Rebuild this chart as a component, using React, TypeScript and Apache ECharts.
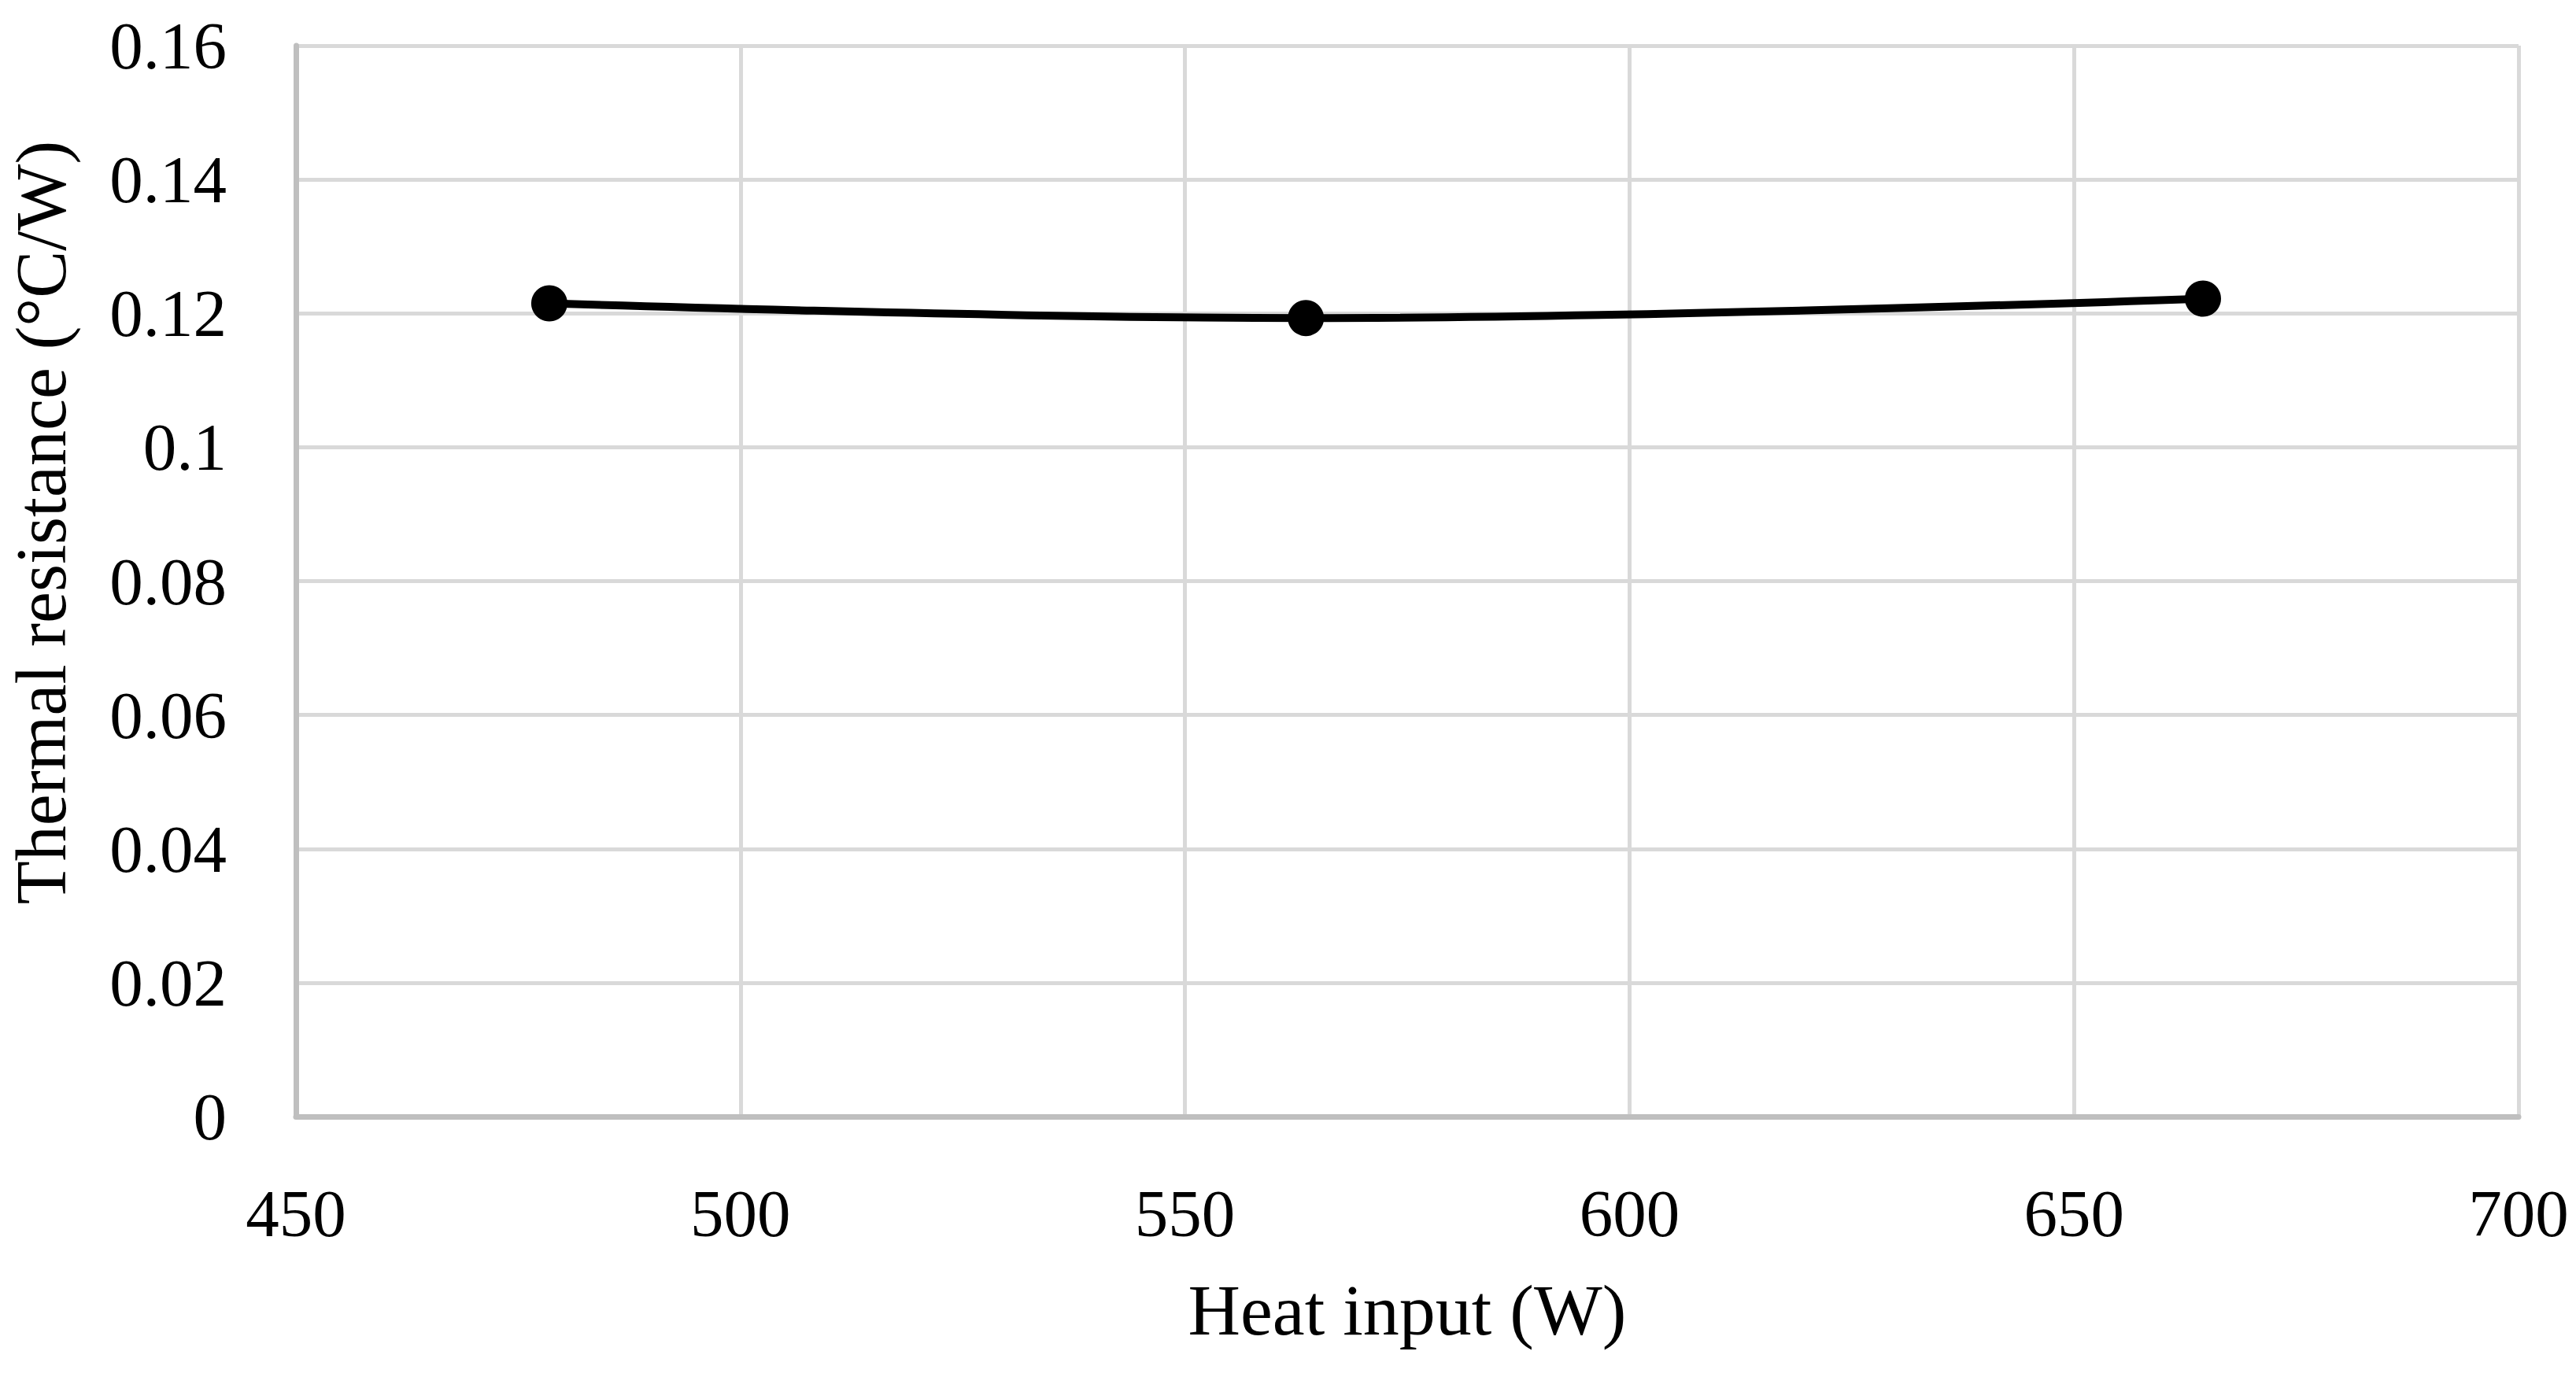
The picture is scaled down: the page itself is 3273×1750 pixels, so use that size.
import React, { useEffect, useRef } from "react";
import * as echarts from "echarts";

const heatInput = [478.5, 563.6, 664.5];
const thermalResistance = [0.1215, 0.1193, 0.1222];
const xTitle = "Heat input (W)";
const yTitle = "Thermal resistance (°C/W)";

const FONT = "'Liberation Serif', 'DejaVu Serif', serif";

export default function App() {
  const ref = useRef<HTMLDivElement>(null);
  useEffect(() => {
    if (!ref.current) return;
    const chart = echarts.init(ref.current, null, { renderer: "svg" });
    const points = heatInput.map((x, i) => [x, thermalResistance[i]]);
    chart.setOption({
      animation: false,
      backgroundColor: "#ffffff",
      textStyle: { fontFamily: FONT },
      grid: { left: 376, right: 73, top: 58, bottom: 331, containLabel: false },
      xAxis: {
        type: "value",
        min: 450,
        max: 700,
        interval: 50,
        name: xTitle,
        nameLocation: "middle",
        nameGap: 200,
        nameTextStyle: { fontFamily: FONT, fontSize: 92, color: "#000" },
        axisLine: { show: true, lineStyle: { color: "#bfbfbf", width: 7 } },
        axisTick: { show: false },
        axisLabel: { fontFamily: FONT, fontSize: 85, color: "#000", margin: 80 },
        splitLine: { show: true, lineStyle: { color: "#d9d9d9", width: 5 } },
      },
      yAxis: {
        type: "value",
        min: 0,
        max: 0.16,
        interval: 0.02,
        axisLine: { show: true, lineStyle: { color: "#bfbfbf", width: 7 } },
        axisTick: { show: false },
        axisLabel: { fontFamily: FONT, fontSize: 85, color: "#000", margin: 88 },
        splitLine: { show: true, lineStyle: { color: "#d9d9d9", width: 5 } },
      },
      graphic: [
        {
          type: "text",
          x: 52,
          y: 664,
          rotation: Math.PI / 2,
          style: {
            text: yTitle,
            fontFamily: FONT,
            fontSize: 90,
            fill: "#000",
            textAlign: "center",
            textVerticalAlign: "middle",
          },
        },
      ],
      series: [
        {
          type: "line",
          data: points,
          smooth: 0.4,
          symbol: "circle",
          symbolSize: 46,
          lineStyle: { color: "#000", width: 10 },
          itemStyle: { color: "#000" },
        },
      ],
    });
    return () => chart.dispose();
  }, []);
  return (
    <div
      ref={ref}
      style={{ position: "absolute", left: 0, top: 0, width: 3273, height: 1750, background: "#fff" }}
    />
  );
}
